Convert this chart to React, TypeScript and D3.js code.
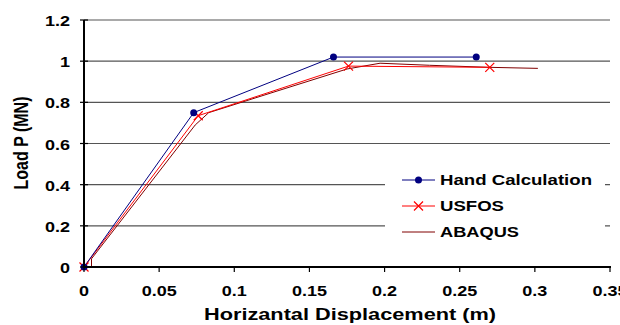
import React, { useRef, useEffect } from "react";
import { select, scaleLinear, line } from "d3";

// axis ticks
const xTicks = [0, 0.05, 0.1, 0.15, 0.2, 0.25, 0.3, 0.35];
const yTicks = [0, 0.2, 0.4, 0.6, 0.8, 1, 1.2];

// series
const handX = [0, 0.073, 0.166, 0.261];
const handY = [0, 0.75, 1.02, 1.02];
const usfosX = [0, 0.076, 0.176, 0.27];
const usfosY = [0, 0.735, 0.976, 0.97];
const abaqusX = [0, 0.005, 0.005, 0.074, 0.083, 0.175, 0.197, 0.23, 0.27, 0.302];
const abaqusY = [0, 0.002, 0.04, 0.69, 0.75, 0.962, 0.99, 0.98, 0.97, 0.965];

const seriesNames = ["Hand Calculation", "USFOS", "ABAQUS"];
const legendWidths = [152, 64, 79];

const FONT = "Arial, 'Liberation Sans', sans-serif";
const NAVY = "#000080";
const RED = "#ff0000";
const DARK_RED = "#800000";

const App = () => {
  const svgRef = useRef<SVGSVGElement | null>(null);

  useEffect(() => {
    const svg = select(svgRef.current);
    svg.selectAll("*").remove();

    const x = scaleLinear().domain([0, 0.35]).range([84, 610]);
    const y = scaleLinear().domain([0, 1.2]).range([267, 20]);

    const toPoints = (xs: number[], ys: number[]) =>
      xs.map((v, i) => [v, ys[i]] as [number, number]);
    const path = line<[number, number]>()
      .x((d) => x(d[0]))
      .y((d) => y(d[1]));

    // gridlines
    svg
      .append("g")
      .selectAll("line")
      .data(yTicks.filter((t) => t > 0))
      .join("line")
      .attr("x1", x(0))
      .attr("x2", x(0.35))
      .attr("y1", (d) => y(d))
      .attr("y2", (d) => y(d))
      .attr("stroke", "#555")
      .attr("stroke-width", 1.2);

    // legend box hides the grid behind it
    svg
      .append("rect")
      .attr("x", 385)
      .attr("y", 163)
      .attr("width", 220)
      .attr("height", 82)
      .attr("fill", "#fff");

    // lines
    svg
      .append("path")
      .attr("d", path(toPoints(abaqusX, abaqusY)))
      .attr("fill", "none")
      .attr("stroke", DARK_RED)
      .attr("stroke-width", 1);
    svg
      .append("path")
      .attr("d", path(toPoints(usfosX, usfosY)))
      .attr("fill", "none")
      .attr("stroke", RED)
      .attr("stroke-width", 1);
    svg
      .append("path")
      .attr("d", path(toPoints(handX, handY)))
      .attr("fill", "none")
      .attr("stroke", NAVY)
      .attr("stroke-width", 1);

    const drawCross = (g: any, cx: number, cy: number) => {
      const s = 4.5;
      g.append("path")
        .attr("d", `M${cx - s},${cy - s}L${cx + s},${cy + s}M${cx - s},${cy + s}L${cx + s},${cy - s}`)
        .attr("stroke", RED)
        .attr("stroke-width", 1.2)
        .attr("fill", "none");
    };

    // markers
    toPoints(usfosX, usfosY).forEach((d) => drawCross(svg, x(d[0]), y(d[1])));
    svg
      .append("g")
      .selectAll("circle")
      .data(toPoints(handX, handY))
      .join("circle")
      .attr("cx", (d) => x(d[0]))
      .attr("cy", (d) => y(d[1]))
      .attr("r", 3.5)
      .attr("fill", NAVY);

    // y axis
    svg
      .append("line")
      .attr("x1", x(0))
      .attr("x2", x(0))
      .attr("y1", y(1.2))
      .attr("y2", y(0))
      .attr("stroke", "#000")
      .attr("stroke-width", 2);
    svg
      .append("g")
      .selectAll("line")
      .data(yTicks)
      .join("line")
      .attr("x1", x(0) - 4)
      .attr("x2", x(0) + 4)
      .attr("y1", (d) => y(d))
      .attr("y2", (d) => y(d))
      .attr("stroke", "#000")
      .attr("stroke-width", 1.2);
    svg
      .append("g")
      .selectAll("text")
      .data(yTicks)
      .join("text")
      .attr("transform", (d) => `translate(70,${y(d) + 6}) scale(1.2,1)`)
      .attr("text-anchor", "end")
      .attr("font-family", FONT)
      .attr("font-weight", "bold")
      .attr("font-size", 15)
      .text((d) => String(d));

    // x axis
    svg
      .append("line")
      .attr("x1", x(0))
      .attr("x2", x(0.35) + 1)
      .attr("y1", y(0))
      .attr("y2", y(0))
      .attr("stroke", "#000")
      .attr("stroke-width", 2);
    svg
      .append("g")
      .selectAll("line")
      .data(xTicks)
      .join("line")
      .attr("x1", (d) => x(d))
      .attr("x2", (d) => x(d))
      .attr("y1", y(0))
      .attr("y2", y(0) + 5)
      .attr("stroke", "#000")
      .attr("stroke-width", 1.2);
    svg
      .append("g")
      .selectAll("text")
      .data(xTicks)
      .join("text")
      .attr("transform", (d) => `translate(${x(d)},296) scale(1.2,1)`)
      .attr("text-anchor", "middle")
      .attr("font-family", FONT)
      .attr("font-weight", "bold")
      .attr("font-size", 15)
      .text((d) => String(d));

    // axis titles
    svg
      .append("text")
      .attr("x", 350)
      .attr("y", 320)
      .attr("text-anchor", "middle")
      .attr("font-family", FONT)
      .attr("font-weight", "bold")
      .attr("font-size", 16)
      .attr("textLength", 292)
      .attr("lengthAdjust", "spacingAndGlyphs")
      .text("Horizantal Displacement (m)");
    svg
      .append("text")
      .attr("transform", "translate(28,143) scale(1.22,1) rotate(-90)")
      .attr("text-anchor", "middle")
      .attr("font-family", FONT)
      .attr("font-weight", "bold")
      .attr("font-size", 16)
      .text("Load P (MN)");

    // legend entries
    const legend = svg.append("g");
    seriesNames.forEach((name, i) => {
      const ly = 180 + i * 26;
      const color = [NAVY, RED, DARK_RED][i];
      legend
        .append("line")
        .attr("x1", 402)
        .attr("x2", 435)
        .attr("y1", ly)
        .attr("y2", ly)
        .attr("stroke", color)
        .attr("stroke-width", 1);
      if (i === 0) {
        legend.append("circle").attr("cx", 418.5).attr("cy", ly).attr("r", 3.5).attr("fill", NAVY);
      } else if (i === 1) {
        drawCross(legend, 418.5, ly);
      }
      legend
        .append("text")
        .attr("x", 440)
        .attr("y", ly + 5)
        .attr("font-family", FONT)
        .attr("font-weight", "bold")
        .attr("font-size", 15)
        .attr("textLength", legendWidths[i])
        .attr("lengthAdjust", "spacingAndGlyphs")
        .text(name);
    });
  }, []);

  return (
    <svg
      ref={svgRef}
      width={620}
      height={325}
      style={{ position: "absolute", left: 0, top: 0, background: "#fff" }}
    ></svg>
  );
};

export default App;
